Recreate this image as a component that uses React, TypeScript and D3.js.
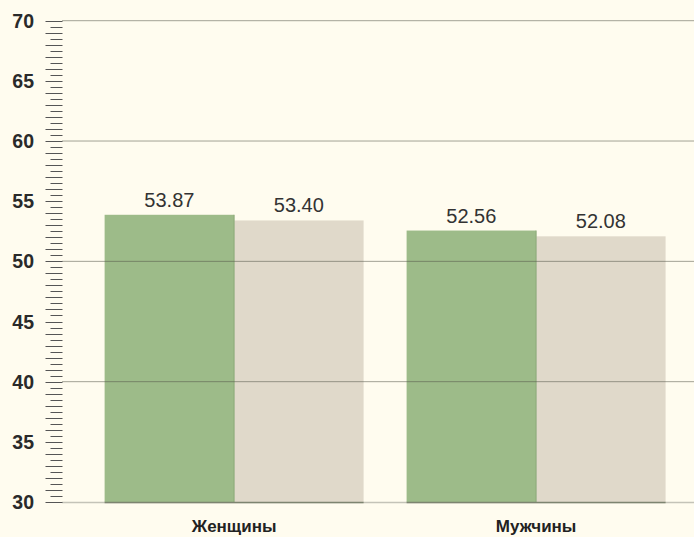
import React from "react";
import * as d3 from "d3";

const categories = ["Женщины", "Мужчины"];
const seriesA = [53.87, 52.56];
const seriesB = [53.4, 52.08];
const yTicks = [30, 35, 40, 45, 50, 55, 60, 65, 70];
const gridValues = [40, 50, 60, 70];

const W = 694;
const H = 537;

export default function App() {
  const y = d3.scaleLinear().domain([30, 70]).range([502, 20.7]);
  const x = d3
    .scaleBand<string>()
    .domain(categories)
    .range([62, 694])
    .paddingInner(0.1424)
    .paddingOuter(0.1176)
    .align(0.6);
  const bw = x.bandwidth() / 2;
  const minor = d3.range(30, 70.001, 0.5);
  const fmt = d3.format(".2f");
  const colA = "#9dbb89";
  const colB = "#e0d9ca";

  return (
    <svg
      width={W}
      height={H}
      style={{ position: "absolute", left: 0, top: 0, background: "#fffcef" }}
      fontFamily="'Liberation Sans', Arial, sans-serif"
    >
      <rect x={0} y={0} width={W} height={H} fill="#fffcef" />
      {/* baseline */}
      <line x1={62} x2={694} y1={y(30) + 0.5} y2={y(30) + 0.5} stroke="#c4c3b8" strokeWidth={1.5} />
      {/* bars */}
      {categories.map((c, i) => (
        <g key={c}>
          <rect x={x(c)!} y={y(seriesA[i])} width={bw} height={y(30) - y(seriesA[i])} fill={colA} />
          <rect x={x(c)! + bw} y={y(seriesB[i])} width={bw} height={y(30) - y(seriesB[i])} fill={colB} />
          <line x1={x(c)! + bw} x2={x(c)! + bw} y1={y(seriesA[i])} y2={y(30)} stroke="#8aa878" strokeWidth={1} />
          <text x={x(c)! + bw / 2} y={y(seriesA[i]) - 8} textAnchor="middle" fontSize={20} fill="#333">
            {fmt(seriesA[i])}
          </text>
          <text x={x(c)! + bw * 1.5} y={y(seriesB[i]) - 8} textAnchor="middle" fontSize={20} fill="#333">
            {fmt(seriesB[i])}
          </text>
          <text x={x(c)! + bw} y={532} textAnchor="middle" fontSize={17} fontWeight="bold" fill="#222">
            {c}
          </text>
        </g>
      ))}
      {/* bar bottom edge */}
      <line x1={x(categories[0])!} x2={x(categories[0])! + 2 * bw} y1={y(30) + 0.5} y2={y(30) + 0.5} stroke="#7d8470" strokeWidth={1.5} />
      <line x1={x(categories[1])!} x2={x(categories[1])! + 2 * bw} y1={y(30) + 0.5} y2={y(30) + 0.5} stroke="#7d8470" strokeWidth={1.5} />
      {/* gridlines */}
      {gridValues.map((v) => (
        <line key={v} x1={62} x2={694} y1={y(v)} y2={y(v)} stroke="#55584a" strokeOpacity={0.55} strokeWidth={1} />
      ))}
      {/* minor ticks */}
      {minor.map((v) => {
        const isInt = Math.abs(v - Math.round(v)) < 1e-6;
        return (
          <line
            key={v}
            x1={isInt ? 45.5 : 50.5}
            x2={62.5}
            y1={Math.round(y(v)) + 0.5}
            y2={Math.round(y(v)) + 0.5}
            stroke="#555"
            strokeWidth={1}
          />
        );
      })}
      {/* y labels */}
      {yTicks.map((v) => (
        <text key={v} x={34} y={y(v) + 7} textAnchor="end" fontSize={19.5} fontWeight="bold" fill="#2a2a2a">
          {v}
        </text>
      ))}
    </svg>
  );
}
